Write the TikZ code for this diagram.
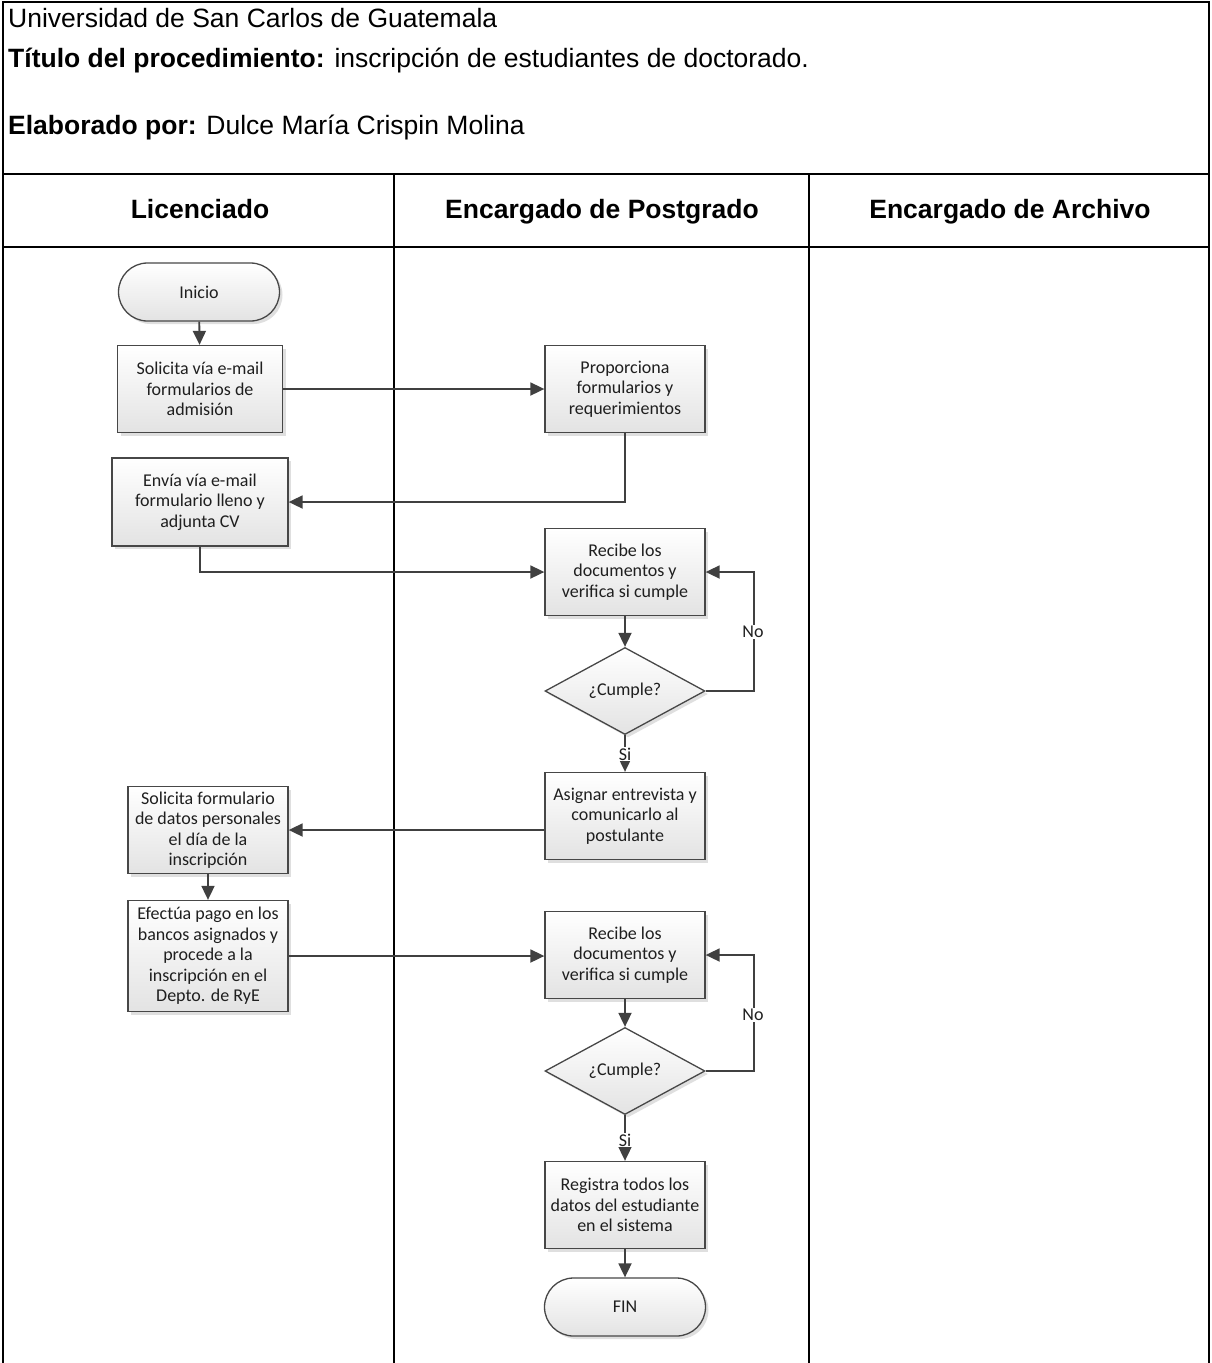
\documentclass[tikz,border=0pt]{standalone}
\usepackage{fontspec}
\setmainfont{Liberation Sans}
\newfontfamily\carlito{Carlito}
\usetikzlibrary{arrows.meta,shapes.geometric,shadows,calc}
\tikzset{
  frameline/.style={draw=black, line width=2pt},
  laneline/.style={draw=black, line width=1.6pt},
  shapebase/.style={draw=black!72, line width=1.3pt, top color=white, bottom color=black!11,
    drop shadow={shadow xshift=3pt, shadow yshift=-3pt, fill=black!25, opacity=0.5},
    align=center, text=black!88, font=\carlito\fontsize{18}{20.5}\selectfont, inner sep=1pt},
  proc/.style={shapebase, rectangle, minimum width=160pt, minimum height=87pt},
  term/.style={shapebase, rectangle, rounded corners=29pt, minimum width=161pt, minimum height=58pt},
  dec/.style={shapebase, diamond, aspect=1.84, minimum width=160pt, minimum height=87pt, inner sep=0pt},
  conn/.style={draw=black!75, line width=1.8pt, -{Triangle[length=14pt,width=13pt]}},
  lbl/.style={fill=white, inner sep=1pt, text=black!88, font=\carlito\fontsize{18}{20}\selectfont},
  hdr/.style={anchor=base west, inner sep=0pt, font=\fontsize{26.5}{30}\selectfont},
  lanetitle/.style={anchor=base, inner sep=0pt, font=\bfseries\fontsize{26.5}{30}\selectfont}
}
\begin{document}
\begin{tikzpicture}[x=1pt,y=-1pt]
\useasboundingbox (0,0) rectangle (1212,1363);
% frame and lanes
\draw[frameline] (3,1363) -- (3,2) -- (1209,2) -- (1209,1363);
\draw[frameline] (3,174) -- (1209,174);
\draw[laneline] (3,247) -- (1209,247);
\draw[laneline] (394,174) -- (394,1363);
\draw[laneline] (809,174) -- (809,1363);
% header
\node[hdr] (h1) at (8,27) {Universidad de San Carlos de Guatemala};
\node[hdr] (h2) at (8,67) {\textbf{Título del procedimiento:} inscripción de estudiantes de doctorado.};
\node[hdr] (h3) at (8,134) {\textbf{Elaborado por:} Dulce María Crispin Molina};
\node[lanetitle] (l1) at (200,218) {Licenciado};
\node[lanetitle] (l2) at (602,218) {Encargado de Postgrado};
\node[lanetitle] (l3) at (1010,218) {Encargado de Archivo};
% nodes
\node[term] (inicio) at (199,292) {Inicio};
\node[proc, minimum width=165pt, minimum height=87pt] (b1) at (200,389) {Solicita vía e-mail\\formularios de\\admisión};
\node[proc] (prop) at (625,389) {Proporciona\\formularios y\\requerimientos};
\node[proc, minimum width=176pt, minimum height=88pt] (b2) at (200,502) {Envía vía e-mail\\formulario lleno y\\adjunta CV};
\node[proc] (rec1) at (625,572) {Recibe los\\documentos y\\verifica si cumple};
\node[dec] (d1) at (625,691) {¿Cumple?};
\node[proc] (asig) at (625,816) {Asignar entrevista y\\comunicarlo al\\postulante};
\node[proc] (sol2) at (208,830) {Solicita formulario\\de datos personales\\el día de la\\inscripción};
\node[proc, minimum height=111pt] (efe) at (208,956) {Efectúa pago en los\\bancos asignados y\\procede a la\\inscripción en el\\Depto. de RyE};
\node[proc] (rec2) at (625,955) {Recibe los\\documentos y\\verifica si cumple};
\node[dec] (d2) at (625,1071) {¿Cumple?};
\node[proc] (reg) at (625,1205) {Registra todos los\\datos del estudiante\\en el sistema};
\node[term] (fin) at (625,1307) {FIN};
% connectors
\draw[conn] (inicio) -- (b1);
\draw[conn] (b1) -- (prop);
\draw[conn] (prop.south) |- (b2.east);
\draw[conn] (b2.south) |- (rec1.west);
\draw[conn] (rec1) -- (d1);
\draw[conn] (d1.east) -- ++(48,0) |- (rec1.east);
\node[lbl] (no1) at (753,632) {No};
\draw[conn] (d1.south) -- (asig.north);
\node[lbl] (si1) at (625,754) {Si};
\draw[conn] (asig.west |- sol2.east) -- (sol2.east);
\draw[conn] (sol2) -- (efe);
\draw[conn] (efe.east) -- (rec2.west |- efe.east);
\draw[conn] (rec2) -- (d2);
\draw[conn] (d2.east) -- ++(48,0) |- (rec2.east);
\node[lbl] (no2) at (753,1015) {No};
\draw[conn] (d2.south) -- (reg.north);
\node[lbl] (si2) at (625,1140) {Si};
\draw[conn] (reg) -- (fin);
\end{tikzpicture}
\end{document}
